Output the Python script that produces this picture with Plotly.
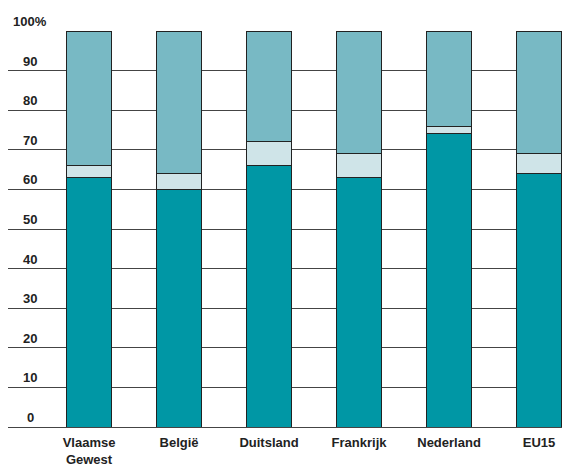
import plotly.graph_objects as go

# data
landen = ['Vlaamse<br>Gewest', 'België', 'Duitsland', 'Frankrijk', 'Nederland', 'EU15']
onder = [63, 60, 66, 63, 74, 64]
midden = [3, 4, 6, 6, 2, 5]
boven = [34, 36, 28, 31, 24, 31]
y_ticks = [0, 10, 20, 30, 40, 50, 60, 70, 80, 90, 100]
y_labels = ['0', '10', '20', '30', '40', '50', '60', '70', '80', '90', '100%']

kleuren = ['#0097a5', '#cfe4e8', '#78b9c4']

fig = go.Figure()
for vals, kleur in zip([onder, midden, boven], kleuren):
    fig.add_trace(go.Bar(
        x=landen,
        y=vals,
        width=0.49,
        marker=dict(color=kleur, line=dict(color='#222222', width=1)),
        showlegend=False,
        hoverinfo='skip',
    ))

# y labels sit just above each gridline, on the left
for v, t in zip(y_ticks, y_labels):
    fig.add_annotation(
        x=0.04, xref='paper', y=v, yref='y',
        text=t, showarrow=False,
        xanchor='center', yanchor='bottom', yshift=0,
        font=dict(family='Liberation Sans', size=13, color='#222222', weight='bold'),
    )

# page body has an 8px margin, so the figure is a bit smaller than the window
fig.update_layout(
    barmode='stack',
    width=562, height=459,
    margin=dict(l=0, r=0, t=23, b=32),
    plot_bgcolor='white',
    paper_bgcolor='white',
    font=dict(family='Liberation Sans', size=13, color='#222222'),
)
fig.update_xaxes(
    range=[-0.9, 5.344],
    showgrid=False,
    showline=False,
    ticks='',
    ticklabelstandoff=6,
    tickfont=dict(family='Liberation Sans', size=13, color='#222222', weight='bold'),
)
fig.update_yaxes(
    range=[0, 100],
    tickvals=y_ticks,
    showticklabels=False,
    showgrid=True,
    gridcolor='#444444',
    gridwidth=1,
    zeroline=True,
    zerolinecolor='#444444',
    zerolinewidth=1,
)

fig.write_html("out.html")
